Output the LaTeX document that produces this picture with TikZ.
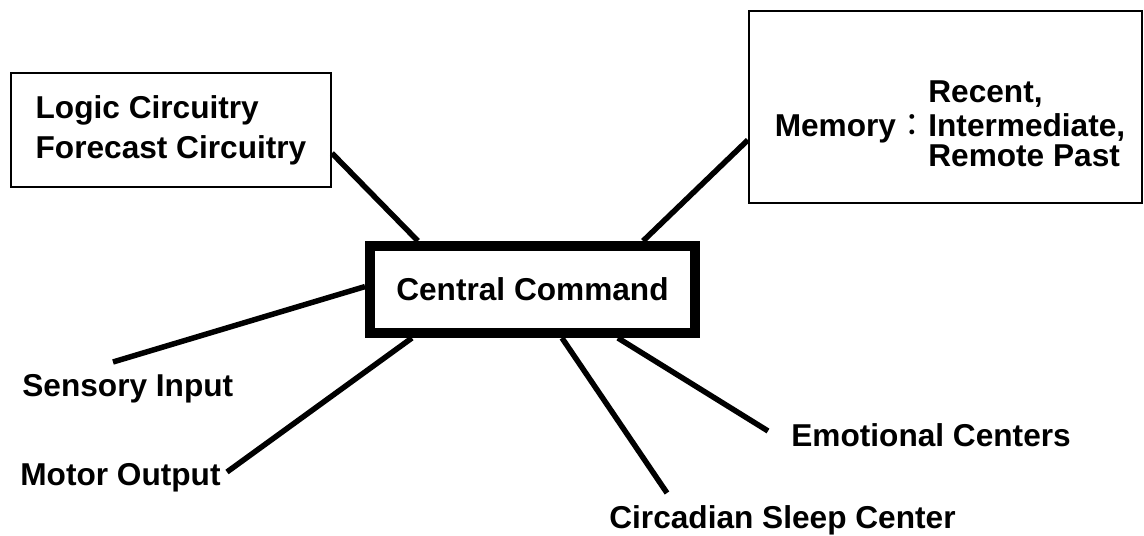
\documentclass[tikz,border=0pt]{standalone}
\usepackage{fontspec}
\setmainfont{Liberation Sans}
\newfontfamily\cjk{Noto Sans CJK TC}
\usetikzlibrary{calc}

\begin{document}
\begin{tikzpicture}[x=0.02cm, y=-0.02cm,
    every node/.style={font=\fontsize{18}{22.7}\selectfont\bfseries},
    caption/.style={inner sep=0pt, anchor=base west},
    thinbox/.style={draw, line width=1.1pt},
    link/.style={line width=0.11cm}]
   \useasboundingbox (0,0) rectangle (1144,536);
   \node[thinbox, minimum width=6.4cm, minimum height=2.28cm, align=left] (logic) at (171,130) {Logic Circuitry\\Forecast Circuitry};
   \node[thinbox, line width=1.4pt, minimum width=7.86cm, minimum height=3.84cm] (memory) at (945.5,107) {};
   \node[caption] (recent) at (928,103) {Recent,};
   \node[caption] (intermediate) at (928,137) {Intermediate,};
   \node[caption] (remote) at (928,167) {Remote Past};
   \node[caption, anchor=base east] (memlabel) at (928,137) {Memory{\cjk\mdseries ：}};
   \node[draw, line width=0.2cm, minimum width=6.5cm, minimum height=1.74cm] (central) at (532.5,289.5) {Central Command};
   \node[caption] (sensory) at (22,397) {Sensory Input};
   \node[caption] (motor) at (20,486) {Motor Output};
   \node[caption] (emotional) at (791,447) {Emotional Centers};
   \node[caption] (circadian) at (609,529) {Circadian Sleep Center};
   \coordinate (sensory-end) at (113,362);
   \coordinate (motor-end) at (227,472);
   \coordinate (emotional-end) at (768,431);
   \coordinate (circadian-end) at (667,493);
   \draw[link] ($(logic.north east)!0.70!(logic.south east)$) to ($(central.north west)!0.158!(central.north east)$);
   \draw[link] ($(memory.north west)!0.67!(memory.south west)$) to ($(central.north west)!0.83!(central.north east)$);
   \draw[link] ($(central.north west)!0.47!(central.south west)$) to (sensory-end);
   \draw[link] ($(central.south west)!0.14!(central.south east)$) to (motor-end);
   \draw[link] ($(central.south west)!0.588!(central.south east)$) to (circadian-end);
   \draw[link] ($(central.south west)!0.755!(central.south east)$) to (emotional-end);
\end{tikzpicture}
\end{document}
